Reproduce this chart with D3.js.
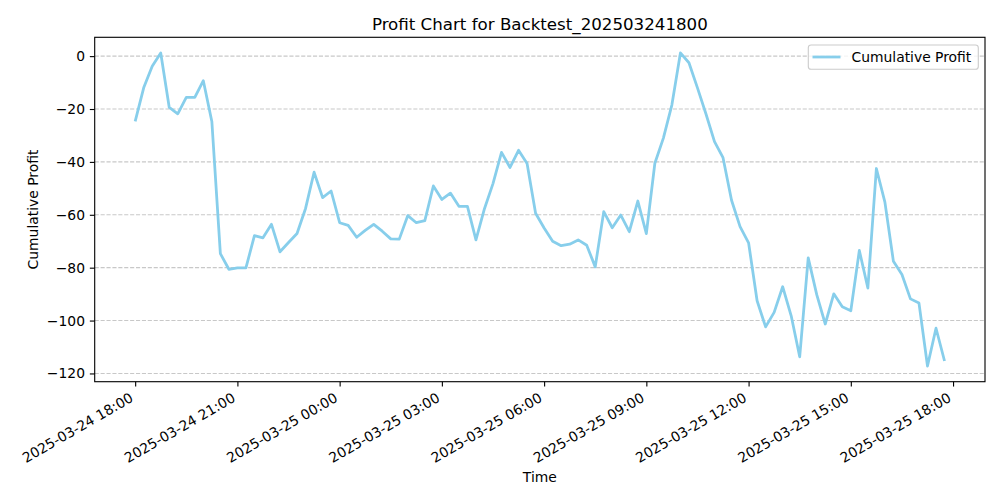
<!DOCTYPE html>
<html>
<head>
<meta charset="utf-8">
<script src="https://cdn.jsdelivr.net/npm/d3@7"></script>
<style>
  body { margin: 0; background: #fff; }
  svg { display: block; font-family: "DejaVu Sans", sans-serif; }
</style>
</head>
<body>
<svg id="chart" width="1000" height="500"></svg>
<script>
// ---- data ----
const startTime = new Date(2025, 2, 24, 18, 0);   // first sample
const stepMinutes = 15;                           // sampling interval
const profit = [
  -24.7,-12.0,-3.8,1.2,-19.4,-21.8,-15.6,-15.6,-9.3,-24.7,
  -74.7,-80.6,-80.1,-80.1,-67.9,-68.7,-63.6,-74.0,-70.5,-67.1,
  -57.6,-43.9,-53.5,-51.0,-63.0,-64.0,-68.5,-65.9,-63.6,-66.2,
  -69.1,-69.2,-60.3,-63.0,-62.2,-49.1,-54.2,-51.8,-56.8,-56.8,
  -69.5,-57.7,-48.2,-36.4,-42.1,-35.6,-40.6,-59.4,-65.0,-70.0,
  -71.7,-71.1,-69.5,-71.5,-79.7,-58.8,-64.9,-60.1,-66.4,-54.8,
  -67.1,-40.5,-31.0,-18.4,1.2,-2.5,-12.0,-21.9,-32.3,-38.4,
  -54.5,-64.5,-70.6,-92.5,-102.4,-96.9,-87.2,-98.2,-113.7,-76.3,
  -90.2,-101.3,-89.9,-94.8,-96.3,-73.5,-87.7,-42.5,-55.2,-77.6,
  -82.6,-91.8,-93.4,-117.2,-102.9,-115.3
];
const yTicks = [-120, -100, -80, -60, -40, -20, 0];
const titleText = "Profit Chart for Backtest_202503241800";
const xLabel = "Time";
const yLabel = "Cumulative Profit";
const seriesName = "Cumulative Profit";

const data = profit.map((v, i) => ({ t: d3.timeMinute.offset(startTime, i * stepMinutes), v }));

// ---- layout ----
const L = 94.7, R = 985, T = 37.3, B = 381.7;
const svg = d3.select("#chart");
const fs = 13.89;
const FONT = "DejaVu Sans";

const tExt = d3.extent(data, d => d.t);
const tPad = (tExt[1] - tExt[0]) * 0.05;
const x = d3.scaleTime()
  .domain([new Date(+tExt[0] - tPad), new Date(+tExt[1] + tPad)])
  .range([L, R]);
const vExt = d3.extent(data, d => d.v);
const vPad = (vExt[1] - vExt[0]) * 0.05;
const y = d3.scaleLinear().domain([vExt[0] - vPad, vExt[1] + vPad]).range([B, T]);

// grid
svg.append("g").selectAll("line").data(yTicks).join("line")
  .attr("x1", L).attr("x2", R)
  .attr("y1", d => y(d)).attr("y2", d => y(d))
  .attr("stroke", "#b0b0b0").attr("stroke-opacity", 0.7)
  .attr("stroke-width", 1.11).attr("stroke-dasharray", "4.1,1.8");

// line
svg.append("path").datum(data)
  .attr("fill", "none").attr("stroke", "#87CEEB").attr("stroke-width", 2.78)
  .attr("stroke-linejoin", "round")
  .attr("d", d3.line().x(d => x(d.t)).y(d => y(d.v)));

// axes
const fmt = d3.timeFormat("%Y-%m-%d %H:%M");
const xAxis = svg.append("g").attr("transform", `translate(0,${B})`)
  .call(d3.axisBottom(x).ticks(d3.timeHour.every(3)).tickFormat(fmt).tickSizeOuter(0).tickSize(4.86));
xAxis.attr("font-family", FONT).attr("font-size", fs);
xAxis.select(".domain").remove();
xAxis.selectAll(".tick line").attr("stroke", "#000").attr("stroke-width", 1.11);
xAxis.selectAll(".tick text")
  .attr("fill", "#000")
  .attr("text-anchor", "end")
  .attr("y", 0).attr("dy", null)
  .attr("transform", "translate(-1.5,19) rotate(-30)");

const yAxis = svg.append("g").attr("transform", `translate(${L},0)`)
  .call(d3.axisLeft(y).tickValues(yTicks).tickFormat(d => d3.format("d")(d).replace("-", "\u2212")).tickSizeOuter(0).tickSize(4.86).tickPadding(4.86));
yAxis.attr("font-family", FONT).attr("font-size", fs);
yAxis.select(".domain").remove();
yAxis.selectAll(".tick line").attr("stroke", "#000").attr("stroke-width", 1.11);
yAxis.selectAll(".tick text").attr("fill", "#000");

// frame
svg.append("rect").attr("x", L).attr("y", T).attr("width", R - L).attr("height", B - T)
  .attr("fill", "none").attr("stroke", "#000").attr("stroke-width", 1.11);

// title & labels
svg.append("text").attr("x", (L + R) / 2).attr("y", 30).attr("text-anchor", "middle")
  .attr("font-size", 16.67).attr("fill", "#000").text(titleText);
svg.append("text").attr("x", (L + R) / 2).attr("y", 482).attr("text-anchor", "middle")
  .attr("font-size", fs).attr("fill", "#000").text(xLabel);
svg.append("text").attr("transform", `translate(37.5,${(T + B) / 2}) rotate(-90)`)
  .attr("text-anchor", "middle").attr("font-size", fs).attr("fill", "#000").text(yLabel);

// legend
const lg = svg.append("g");
lg.append("rect").attr("x", 808.3).attr("y", 45).attr("width", 170).attr("height", 24.3)
  .attr("rx", 2.8).attr("fill", "#fff").attr("fill-opacity", 0.8)
  .attr("stroke", "#cccccc").attr("stroke-width", 1.11);
lg.append("line").attr("x1", 812.5).attr("x2", 840.5).attr("y1", 57).attr("y2", 57)
  .attr("stroke", "#87CEEB").attr("stroke-width", 2.78);
lg.append("text").attr("x", 851.5).attr("y", 57).attr("dy", "0.35em")
  .attr("font-size", fs).attr("fill", "#000").text(seriesName);
</script>
</body>
</html>
